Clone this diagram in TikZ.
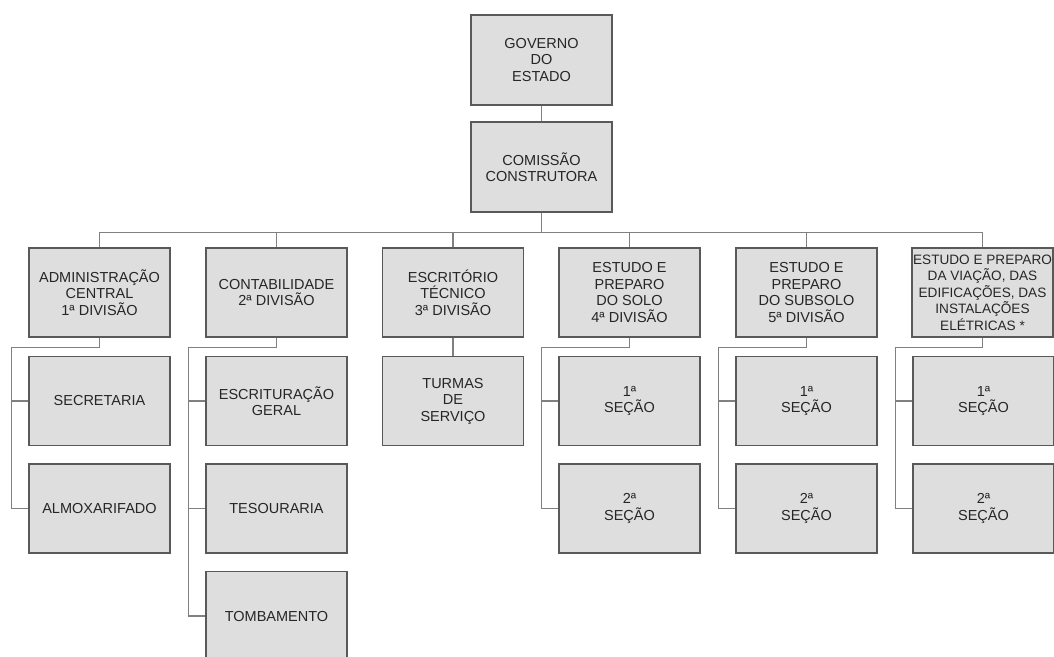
\documentclass[tikz,border=0pt]{standalone}
\usepackage{fontspec}
\setmainfont{Liberation Sans}
\begin{document}
\begin{tikzpicture}[x=1pt,y=-1pt,
  box/.style={draw=black!65, line width=1.2pt, fill=black!13, text=black!85,
    minimum width=141pt, minimum height=89pt, inner sep=0pt, align=center,
    font=\fontsize{14.5}{16.5}\selectfont},
  conn/.style={draw=black!50, line width=1.1pt}]
\useasboundingbox (0,0) rectangle (1054,656);
\fill[white] (0,0) rectangle (1054,656);
% top
\node[box, minimum height=90pt] (gov) at (541.5,60) {GOVERNO\\DO\\ESTADO};
\node[box, minimum height=90pt] (com) at (541.5,167) {COMISSÃO\\CONSTRUTORA};
% divisions
\node[box] (d1) at (99.5,292.5) {ADMINISTRAÇÃO\\CENTRAL\\1ª DIVISÃO};
\node[box] (d2) at (276.5,292.5) {CONTABILIDADE\\2ª DIVISÃO};
\node[box] (d3) at (453,292.5) {ESCRITÓRIO\\TÉCNICO\\3ª DIVISÃO};
\node[box] (d4) at (629.5,292.5) {ESTUDO E\\PREPARO\\DO SOLO\\4ª DIVISÃO};
\node[box] (d5) at (806.5,292.5) {ESTUDO E\\PREPARO\\DO SUBSOLO\\5ª DIVISÃO};
\node[box, font=\fontsize{13.6}{16.5}\selectfont] (d6) at (982.5,292.5) {ESTUDO E PREPARO\\DA VIAÇÃO, DAS\\EDIFICAÇÕES, DAS\\INSTALAÇÕES\\ELÉTRICAS *};
% sub boxes
\node[box] (s11) at (99.5,401) {SECRETARIA};
\node[box] (s12) at (99.5,508.5) {ALMOXARIFADO};
\node[box] (s21) at (276.5,401) {ESCRITURAÇÃO\\GERAL};
\node[box] (s22) at (276.5,508.5) {TESOURARIA};
\node[box] (s23) at (276.5,616) {TOMBAMENTO};
\node[box] (s31) at (453,401) {TURMAS\\DE\\SERVIÇO};
\node[box] (s41) at (629.5,401) {1ª\\SEÇÃO};
\node[box] (s42) at (629.5,508.5) {2ª\\SEÇÃO};
\node[box] (s51) at (806.5,401) {1ª\\SEÇÃO};
\node[box] (s52) at (806.5,508.5) {2ª\\SEÇÃO};
\node[box] (s61) at (983.5,401) {1ª\\SEÇÃO};
\node[box] (s62) at (983.5,508.5) {2ª\\SEÇÃO};
% connectors
\draw[conn] (gov.south) -- (com.north);
\foreach \d in {d1,d2,d3,d4,d5,d6}
  \draw[conn] (com.south) -- ++(0,20) -| (\d.north);
\draw[conn] (d3.south) -- (s31.north);
\foreach \d/\a/\b in {d1/s11/s12, d4/s41/s42, d5/s51/s52, d6/s61/s62}{
  \draw[conn] (\d.south) -- ++(0,10) -| ([xshift=-17pt]\b.west) -- (\b.west);
  \draw[conn] (\a.west) -- ++(-17,0);
}
\draw[conn] (d2.south) -- ++(0,10) -| ([xshift=-17pt]s23.west) -- (s23.west);
\draw[conn] (s21.west) -- ++(-17,0);
\draw[conn] (s22.west) -- ++(-17,0);
\end{tikzpicture}
\end{document}
